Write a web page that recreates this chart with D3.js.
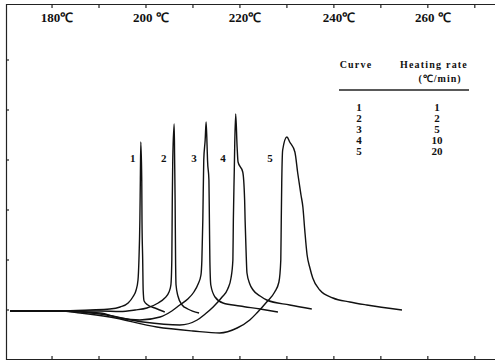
<!DOCTYPE html>
<html>
<head lang="en">
    <meta charset="UTF-8">
    <title>DSC curves at different heating rates</title>
    <script src="https://d3js.org/d3.v7.min.js"></script>
    <style>
        body { margin: 0; background: #fff; }
        text { fill: #111; }
    </style>
</head>
<body>
<div id="chartContainer"></div>
<script type="text/javascript">

    // temperature (deg C) and heat flow signal (arbitrary units, baseline = 0)
    var temp1 = [171.1, 181.7, 188.1, 192.3, 194.5, 196.2, 197.2, 197.9, 198.3, 198.5, 198.7, 198.8, 198.9, 199.1, 199.15, 199.3, 199.4, 199.6, 200.4, 201.9, 204.0];
    var heat1 = [0, 0, 0.1, 0.2, 0.4, 0.8, 1.4, 2.1, 3.1, 5.1, 9.1, 13.1, 16.9, 13.1, 9.1, 5.1, 2.1, 1.0, 0.6, 0.3, -0.1];

    var temp2 = [171.1, 181.7, 190.2, 194.5, 197.7, 200.2, 202.6, 204.0, 204.9, 205.3, 205.5, 205.6, 205.7, 206.0, 206.1, 206.2, 206.3, 206.4, 206.8, 207.7, 208.9, 211.3];
    var heat2 = [0, 0, 0, -0.05, 0.1, 0.3, 0.8, 1.3, 1.9, 2.6, 5.1, 11.1, 15.1, 18.7, 15.1, 11.1, 5.1, 2.6, 1.5, 0.6, 0.2, -0.2];

    var temp3 = [171.1, 181.7, 190.2, 194.5, 198.7, 203.0, 205.5, 207.2, 208.9, 210.2, 211.1, 211.7, 211.9, 212.1, 212.3, 212.6, 212.8, 213.0, 213.1, 213.4, 213.5, 213.6, 213.8, 214.7, 216.4, 220.0, 224.3, 228.1];
    var heat3 = [0, 0, -0.2, -0.7, -0.9, -0.6, 0, 0.6, 1.2, 1.9, 2.7, 3.6, 5.1, 9.1, 15.1, 17.1, 18.9, 16.6, 15.1, 13.1, 9.1, 5.1, 2.6, 1.4, 0.8, 0.5, 0.2, -0.1];

    var temp4 = [171.1, 181.7, 190.2, 199.4, 207.2, 210.9, 212.6, 214.3, 216.2, 217.4, 218.1, 218.5, 218.6, 218.8, 218.9, 219.1, 219.4, 219.6, 220.6, 221.0, 221.1, 221.3, 221.5, 222.1, 222.8, 224.3, 225.7, 230.6, 235.3];
    var heat4 = [0, 0, -0.3, -1.1, -1.4, -0.9, -0.3, 0.4, 1.4, 2.2, 3.3, 5.1, 9.1, 14.1, 16.8, 19.7, 16.4, 14.9, 13.9, 11.1, 9.1, 6.1, 3.8, 2.7, 2.1, 1.5, 1.1, 0.6, 0.2];

    var temp5 = [171.1, 181.7, 186.0, 192.3, 202.3, 210.0, 215.7, 219.4, 222.1, 223.6, 225.7, 227.4, 228.3, 228.7, 228.8, 228.9, 229.1, 230.0, 230.6, 231.7, 232.3, 233.0, 233.4, 233.8, 234.3, 234.9, 235.5, 237.0, 239.8, 243.4, 247.0, 254.5];
    var heat5 = [0, 0, -0.2, -0.6, -1.6, -2.0, -2.2, -1.7, -0.9, -0.2, 0.9, 1.9, 2.9, 5.1, 9.1, 12.8, 16.1, 17.4, 16.9, 15.9, 13.8, 11.6, 10.4, 8.1, 5.6, 4.3, 3.3, 2.1, 1.3, 0.9, 0.6, 0.1];

    var curveNames = ["1", "2", "3", "4", "5"];
    var heatingRates = ["1", "2", "5", "10", "20"];
    // where each curve number is written
    var labelTemps = [197.2, 203.8, 210.2, 216.4, 226.4];
    var labelHeat = 15.3;

    var tempTicks = [180, 190, 200, 210, 220, 230, 240, 250, 260, 270];
    var tempLabels = ["180℃", "200 ℃", "220℃", "240℃", "260 ℃"];
    var tempLabelValues = [180, 200, 220, 240, 260];
    var heatTicks = [0, 5, 10, 15, 20, 25];

    var width = 495, height = 361;
    var svg = d3.select("#chartContainer").append("svg")
        .attr("width", width)
        .attr("height", height);

    var x = d3.scaleLinear().domain([170.2, 274.3]).range([6, 495]);
    var y = d3.scaleLinear().domain([-4.8, 30.6]).range([359, 5]);

    // frame (open on the right)
    svg.append("path")
        .attr("d", "M495,4.5H6.5V359.5H495")
        .attr("fill", "none")
        .attr("stroke", "#222")
        .attr("stroke-width", 1.2);

    // inward ticks, top and bottom
    svg.selectAll(".ttop").data(tempTicks).enter().append("line")
        .attr("x1", function (d) { return x(d); })
        .attr("x2", function (d) { return x(d); })
        .attr("y1", 4.5).attr("y2", 8)
        .attr("stroke", "#222").attr("stroke-width", 1.2);
    svg.selectAll(".tbot").data(tempTicks).enter().append("line")
        .attr("x1", function (d) { return x(d); })
        .attr("x2", function (d) { return x(d); })
        .attr("y1", 359.5).attr("y2", 356)
        .attr("stroke", "#222").attr("stroke-width", 1.2);
    svg.selectAll(".tleft").data(heatTicks).enter().append("line")
        .attr("x1", 6.5).attr("x2", 9)
        .attr("y1", function (d) { return y(d) - 1; })
        .attr("y2", function (d) { return y(d) - 1; })
        .attr("stroke", "#222").attr("stroke-width", 1.2);

    svg.selectAll(".tlab").data(tempLabelValues).enter().append("text")
        .attr("x", function (d) { return x(d) + 5; })
        .attr("y", 22)
        .attr("text-anchor", "middle")
        .style("font-family", "'Liberation Serif', serif")
        .style("font-weight", "bold")
        .style("font-size", "13px")
        .text(function (d, i) { return tempLabels[i]; });

    // the curves
    var temps = [temp1, temp2, temp3, temp4, temp5];
    var heats = [heat1, heat2, heat3, heat4, heat5];
    var line = d3.line()
        .x(function (d) { return x(d[0]); })
        .y(function (d) { return y(d[1]); })
        .curve(d3.curveMonotoneX);

    temps.forEach(function (t, i) {
        var pts = t.map(function (v, j) { return [v, heats[i][j]]; });
        svg.append("path")
            .attr("d", line(pts))
            .attr("fill", "none")
            .attr("stroke", "#111")
            .attr("stroke-width", 1.4)
            .attr("stroke-linejoin", "round");
    });

    svg.selectAll(".clab").data(labelTemps).enter().append("text")
        .attr("x", function (d) { return x(d); })
        .attr("y", y(labelHeat))
        .attr("dy", "0.35em")
        .attr("text-anchor", "middle")
        .style("font-family", "'Liberation Serif', serif")
        .style("font-weight", "bold")
        .style("font-size", "11px")
        .text(function (d, i) { return curveNames[i]; });

    // table of heating rates
    var tab = svg.append("g").style("font-family", "'Liberation Serif', serif").style("font-weight", "bold");
    tab.append("text").attr("x", 356).attr("y", 68).attr("text-anchor", "middle")
        .style("font-size", "10px").style("letter-spacing", "1.2px").text("Curve");
    tab.append("text").attr("x", 434).attr("y", 68).attr("text-anchor", "middle")
        .style("font-size", "10px").style("letter-spacing", "1.2px").text("Heating rate");
    tab.append("text").attr("x", 440).attr("y", 82).attr("text-anchor", "middle")
        .style("font-size", "10px").style("letter-spacing", "1px").text("(℃/min)");
    tab.append("line").attr("x1", 339).attr("x2", 469).attr("y1", 90).attr("y2", 90)
        .attr("stroke", "#222").attr("stroke-width", 1.6);

    var rowY = d3.scaleLinear().domain([0, 4]).range([111, 155]);
    tab.selectAll(".rc").data(curveNames).enter().append("text")
        .attr("x", 359).attr("y", function (d, i) { return rowY(i); })
        .attr("text-anchor", "middle").style("font-size", "11px")
        .text(function (d) { return d; });
    tab.selectAll(".rr").data(heatingRates).enter().append("text")
        .attr("x", 437).attr("y", function (d, i) { return rowY(i); })
        .attr("text-anchor", "middle").style("font-size", "11px")
        .text(function (d) { return d; });

</script>
</body>
</html>
